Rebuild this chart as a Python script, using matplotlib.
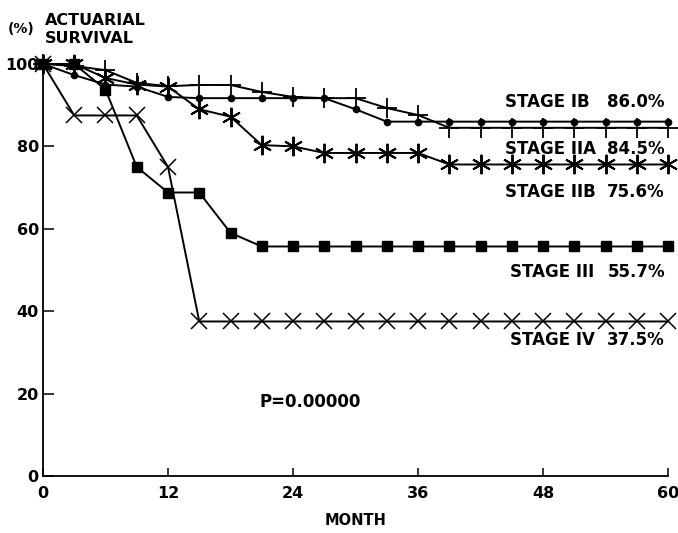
import numpy as np
import matplotlib
matplotlib.use("Agg")
import matplotlib.pyplot as plt

plt.rcParams['font.family'] = ['DejaVu Sans']
plt.rcParams['font.weight'] = 'bold'

# months at which each curve is sampled
months = np.arange(0, 61, 3)

# survival (%), one value per 3 months
stage_ib = [100, 97.3, 95, 94.5, 92, 91.7, 91.7, 91.7, 91.7, 91.7, 89,
            86, 86, 86, 86, 86, 86, 86, 86, 86, 86]
stage_iia = [100, 99.5, 98.5, 95.4, 94.6, 94.9, 94.9, 93.2, 92, 91.7, 91.7,
             89.3, 87.6, 84.5, 84.5, 84.5, 84.5, 84.5, 84.5, 84.5, 84.5]
stage_iib = [100, 100, 96.6, 95, 94.5, 89, 87.2, 80.3, 80, 78.4, 78.4,
             78.4, 78.4, 75.6, 75.6, 75.6, 75.6, 75.6, 75.6, 75.6, 75.6]
stage_iii = [100, 100, 93.8, 75, 68.8, 68.8, 59, 55.7, 55.7, 55.7, 55.7,
             55.7, 55.7, 55.7, 55.7, 55.7, 55.7, 55.7, 55.7, 55.7, 55.7]
stage_iv = [100, 87.5, 87.5, 87.5, 75, 37.5, 37.5, 37.5, 37.5, 37.5, 37.5,
            37.5, 37.5, 37.5, 37.5, 37.5, 37.5, 37.5, 37.5, 37.5, 37.5]

stage_names = ['STAGE IB', 'STAGE IIA', 'STAGE IIB', 'STAGE III', 'STAGE IV']
stage_final = ['86.0%', '84.5%', '75.6%', '55.7%', '37.5%']

x_ticks = [0, 12, 24, 36, 48, 60]
y_ticks = [0, 20, 40, 60, 80, 100]

fig = plt.figure(figsize=(6.78, 5.33), dpi=100)
ax = fig.add_axes([0.0634, 0.107, 0.922, 0.773])

# asterisk with a vertical spoke for stage IIB
star = (6, 2, 0)
styles = [
    (stage_ib, dict(marker='o', markersize=4.5)),
    (stage_iia, dict(marker='+', markersize=14, markeredgewidth=1.3)),
    (stage_iib, dict(marker=star, markersize=14, markeredgewidth=1.4)),
    (stage_iii, dict(marker='s', markersize=7.5)),
    (stage_iv, dict(marker='x', markersize=11, markeredgewidth=1.1)),
]
for vals, st in styles:
    ax.plot(months, vals, color='black', linewidth=1.4, clip_on=False, **st)

# stage labels: name on the left, final survival on the right
name_x = [44.3, 44.3, 44.3, 44.8, 44.8]
label_y = [90.8, 79.4, 68.9, 49.5, 33.0]
for name, pct, nx, y in zip(stage_names, stage_final, name_x, label_y):
    ax.text(nx, y, name, ha='left', va='center', fontsize=12,
            fontweight='bold')
    ax.text(59.7, y, pct, ha='right', va='center', fontsize=12,
            fontweight='bold')

ax.text(20.8, 18, 'P=0.00000', ha='left', va='center', fontsize=12,
        fontweight='bold')

ax.set_xlim(0, 60)
ax.set_ylim(0, 100)
ax.set_xticks(x_ticks)
ax.set_yticks(y_ticks)
ax.spines['top'].set_visible(False)
ax.spines['right'].set_visible(False)
ax.spines['left'].set_linewidth(1.3)
ax.spines['bottom'].set_linewidth(1.3)
ax.tick_params(axis='x', direction='in', length=6, width=1.1, pad=7,
               labelsize=11.5)
ax.tick_params(axis='y', direction='in', length=8, width=1.1, pad=3,
               labelsize=11.5)

ax.set_xlabel('MONTH', fontsize=10.5, fontweight='bold', labelpad=9)
fig.text(0.012, 0.945, '(%)', fontsize=10, fontweight='bold', va='center')
fig.text(0.066, 0.962, 'ACTUARIAL', fontsize=11.5, fontweight='bold',
         va='center')
fig.text(0.066, 0.928, 'SURVIVAL', fontsize=11.5, fontweight='bold',
         va='center')

plt.savefig('out.png', dpi=100)
